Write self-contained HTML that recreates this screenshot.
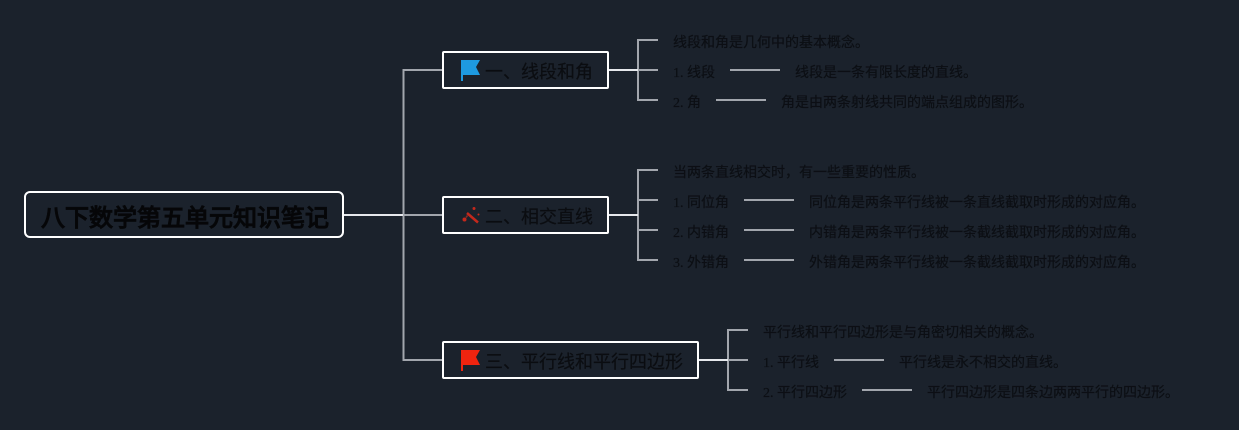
<!DOCTYPE html>
<html><head><meta charset="utf-8"><style>
html,body{margin:0;padding:0;width:1239px;height:430px;overflow:hidden;background:#1b222c}
svg{display:block}
text{font-family:"Liberation Serif","WenQuanYi Zen Hei",serif;fill:#0b0d11}
.l{font-size:14px;fill:#0c0f14;stroke:#0c0f14;stroke-width:.2px}
.b{font-size:18px;stroke:#0b0d11;stroke-width:.2px}
.r{font-size:24px;font-weight:bold;fill:#060709;stroke:#060709;stroke-width:.3px}
.c{fill:none;stroke:#a2a6ad;stroke-width:2}
.w{fill:none;stroke:#e6e8ec;stroke-width:2}
.n{fill:#1b222c;stroke:#fff;stroke-width:2}
</style></head><body>
<svg width="1239" height="430" viewBox="0 0 1239 430" xmlns="http://www.w3.org/2000/svg">
<!-- main connectors -->
<path class="c" d="M443 70H403.500V360H443"/>
<path class="w" d="M343 215H403"/>
<path class="c" d="M404 215H443"/>
<!-- branch 1 -->
<path class="c" d="M658 40H638V100H658M638 70H658"/>
<path class="w" d="M608 70H638"/>
<path class="c" d="M730 70H780M716 100H766"/>
<!-- branch 2 -->
<path class="c" d="M658 170H638V260H658M638 200H658M638 230H658"/>
<path class="w" d="M608 215H638"/>
<path class="c" d="M744 200H794M744 230H794M744 260H794"/>
<!-- branch 3 -->
<path class="c" d="M748 330H728V390H748M728 360H748"/>
<path class="w" d="M698 360H728"/>
<path class="c" d="M834 360H884M862 390H912"/>
<!-- root -->
<rect class="n" x="25" y="192" width="318" height="45" rx="5"/>
<text class="r" x="41" y="226">八下数学第五单元知识笔记</text>
<!-- branch nodes -->
<rect class="n" x="443" y="52" width="165" height="36" rx="1"/>
<rect class="n" x="443" y="197" width="165" height="36" rx="1"/>
<rect class="n" x="443" y="342" width="255" height="36" rx="1"/>
<!-- flags -->
<path d="M461 60H480L476 67L480 75H463V81H461Z" fill="#1e9ae0"/>
<path d="M461 350H480L476 357L480 365H463V371H461Z" fill="#f0240f"/>
<g fill="#c4281c">
<path d="M467 213L478 222.500" stroke="#c4281c" stroke-width="2.500" fill="none"/>
<circle cx="464.500" cy="219.500" r="2"/>
<path d="M466 217.500L467.500 215.500" stroke="#8a2a24" stroke-width="1.500" fill="none"/>
<circle cx="474" cy="208.500" r="1.500"/>
<circle cx="478.500" cy="214.500" r="1"/>
</g>
<text class="b" x="485" y="78">一、线段和角</text>
<text class="b" x="485" y="223">二、相交直线</text>
<text class="b" x="485" y="368">三、平行线和平行四边形</text>
<!-- leaves 1 -->
<text class="l" x="673" y="47">线段和角是几何中的基本概念。</text>
<text class="l" x="673" y="77">1. 线段</text>
<text class="l" x="795" y="77">线段是一条有限长度的直线。</text>
<text class="l" x="673" y="107">2. 角</text>
<text class="l" x="781" y="107">角是由两条射线共同的端点组成的图形。</text>
<!-- leaves 2 -->
<text class="l" x="673" y="177">当两条直线相交时，有一些重要的性质。</text>
<text class="l" x="673" y="207">1. 同位角</text>
<text class="l" x="809" y="207">同位角是两条平行线被一条直线截取时形成的对应角。</text>
<text class="l" x="673" y="237">2. 内错角</text>
<text class="l" x="809" y="237">内错角是两条平行线被一条截线截取时形成的对应角。</text>
<text class="l" x="673" y="267">3. 外错角</text>
<text class="l" x="809" y="267">外错角是两条平行线被一条截线截取时形成的对应角。</text>
<!-- leaves 3 -->
<text class="l" x="763" y="337">平行线和平行四边形是与角密切相关的概念。</text>
<text class="l" x="763" y="367">1. 平行线</text>
<text class="l" x="899" y="367">平行线是永不相交的直线。</text>
<text class="l" x="763" y="397">2. 平行四边形</text>
<text class="l" x="927" y="397">平行四边形是四条边两两平行的四边形。</text>
</svg>
</body></html>
